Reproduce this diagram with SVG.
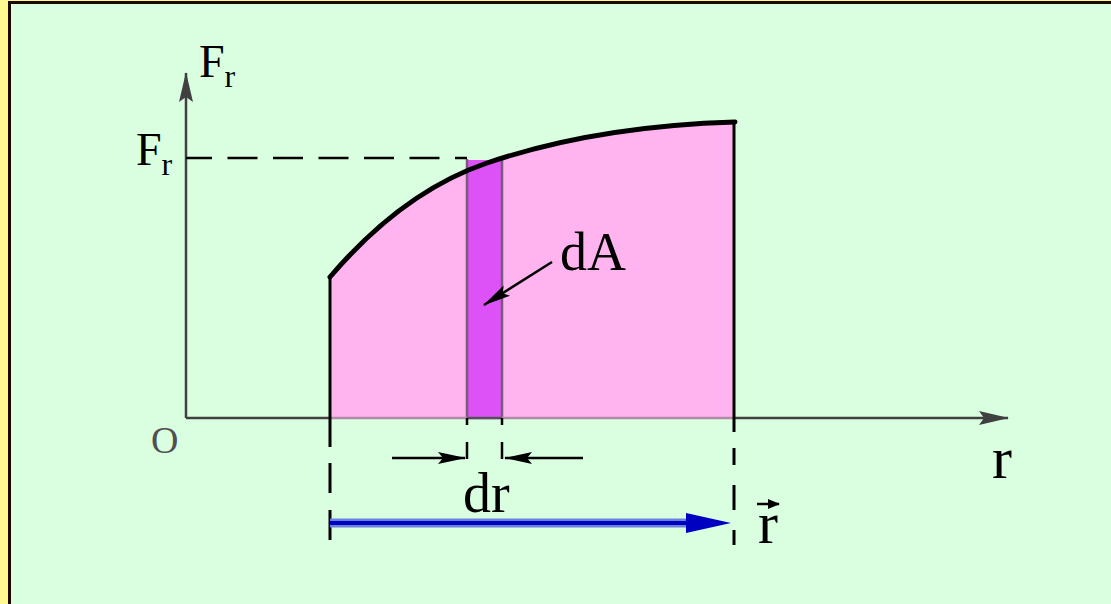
<svg xmlns="http://www.w3.org/2000/svg" width="1111" height="604" viewBox="0 0 1111 604">
  <style>
    .lbl { font-family: "Liberation Serif", "Times New Roman", serif; fill: #000; }
    .axis { stroke: #404040; stroke-width: 2.5; fill: none; }
    .blk { stroke: #000; stroke-width: 2.5; fill: none; }
    .edge { stroke: #000; stroke-width: 3; fill: none; }
    .strip-edge { stroke: #7a587a; stroke-width: 2.5; fill: none; }
  </style>
  <defs>
    <marker id="ahAxis" viewBox="0 0 30 16" refX="29" refY="8" markerWidth="30" markerHeight="16" markerUnits="userSpaceOnUse" orient="auto">
      <path d="M0,1 L30,8 L0,15 L5,8 Z" fill="#404040"/>
    </marker>
    <marker id="ahBlk" viewBox="0 0 28 14" refX="27" refY="7" markerWidth="28" markerHeight="14" markerUnits="userSpaceOnUse" orient="auto">
      <path d="M0,1 L28,7 L0,13 L5,7 Z" fill="#000"/>
    </marker>
    <marker id="ahSmall" viewBox="0 0 12 10" refX="11" refY="5" markerWidth="12" markerHeight="10" markerUnits="userSpaceOnUse" orient="auto">
      <path d="M0,0 L12,5 L0,10 Z" fill="#000"/>
    </marker>
  </defs>

  <!-- frame -->
  <rect x="0" y="0" width="1111" height="604" fill="#FFF990"/>
  <rect x="8" y="1" width="1103" height="603" fill="#1A0800"/>
  <rect x="11" y="4" width="1100" height="600" fill="#DAFFE0"/>

  <!-- area under curve -->
  <g id="area">
    <path d="M330,418 L330,277 C382,216 435,180.7 487,163 C570,134.8 652,124.5 735,122 L735,418 Z" fill="#FFB3EF"/>
  </g>

  <!-- strip dA -->
  <g id="strip">
    <rect x="467" y="160" width="35" height="258" fill="#DD52F6"/>
    <line class="strip-edge" x1="467" y1="159" x2="467" y2="418"/>
    <line class="strip-edge" x1="502" y1="158" x2="502" y2="418"/>
  </g>

  <g id="connectors">
    <!-- axes -->
    <line class="axis" x1="186" y1="418" x2="330" y2="418"/>
    <line x1="330" y1="418" x2="735" y2="418" stroke="#B08AA8" stroke-width="2.5"/>
    <line x1="467" y1="418" x2="502" y2="418" stroke="#604868" stroke-width="2.5"/>
    <line class="axis" x1="735" y1="418" x2="1008" y2="418" marker-end="url(#ahAxis)"/>
    <line class="axis" x1="186" y1="418" x2="186" y2="73" marker-end="url(#ahAxis)"/>

    <!-- dashed Fr level -->
    <line class="blk" x1="186" y1="158" x2="467" y2="158" stroke-dasharray="30 15.5" stroke-dashoffset="4"/>

    <!-- curve -->
    <path d="M330,277 C382,216 435,180.7 487,163 C570,134.8 652,124.5 735,122" fill="none" stroke="#000" stroke-width="5" stroke-linecap="round"/>

    <!-- area edges -->
    <line class="edge" x1="330" y1="277" x2="330" y2="447"/>
    <line class="edge" x1="330" y1="463" x2="330" y2="493"/>
    <line class="edge" x1="330" y1="510" x2="330" y2="540"/>
    <line class="edge" x1="734" y1="122" x2="734" y2="432"/>
    <line class="edge" x1="734" y1="448" x2="734" y2="465"/>
    <line class="edge" x1="734" y1="485" x2="734" y2="510"/>
    <line class="edge" x1="734" y1="530" x2="734" y2="545"/>

    <!-- strip extensions -->
    <line class="blk" x1="467" y1="418" x2="467" y2="425"/>
    <line class="blk" x1="467" y1="442" x2="467" y2="459"/>
    <line class="blk" x1="502" y1="418" x2="502" y2="425"/>
    <line class="blk" x1="502" y1="442" x2="502" y2="459"/>

    <!-- dr dimension arrows -->
    <line class="blk" x1="392" y1="458" x2="465" y2="458" marker-end="url(#ahBlk)"/>
    <line class="blk" x1="583" y1="458" x2="505" y2="458" marker-end="url(#ahBlk)"/>

    <!-- dA leader -->
    <line class="blk" x1="552" y1="262" x2="484" y2="305" marker-end="url(#ahBlk)"/>

    <!-- r vector -->
    <line x1="330" y1="523" x2="700" y2="523" stroke="#6A82DA" stroke-width="9"/>
    <line x1="330" y1="523" x2="700" y2="523" stroke="#0000C0" stroke-width="4"/>
    <path d="M686,513 L731,523 L686,533 Z" fill="#0000C0"/>

    <!-- vector arrow over r -->
    <line x1="757" y1="504" x2="779" y2="504" stroke="#000" stroke-width="2.5" marker-end="url(#ahSmall)"/>
  </g>

  <!-- labels -->
  <g id="label-Fr-top">
    <text class="lbl" x="199" y="77" font-size="46">F<tspan dy="10" font-size="32">r</tspan></text>
  </g>
  <g id="label-Fr-left">
    <text class="lbl" x="136" y="165" font-size="46">F<tspan dy="10" font-size="32">r</tspan></text>
  </g>
  <g id="label-O">
    <text class="lbl" x="151" y="453" font-size="38" style="fill:#505050">O</text>
  </g>
  <g id="label-dA">
    <text class="lbl" x="560" y="270" font-size="54">dA</text>
  </g>
  <g id="label-dr">
    <text class="lbl" x="463" y="512" font-size="56">dr</text>
  </g>
  <g id="label-r-axis">
    <text class="lbl" x="992" y="478" font-size="60">r</text>
  </g>
  <g id="label-r-vec">
    <text class="lbl" x="758" y="543" font-size="60">r</text>
  </g>
</svg>
